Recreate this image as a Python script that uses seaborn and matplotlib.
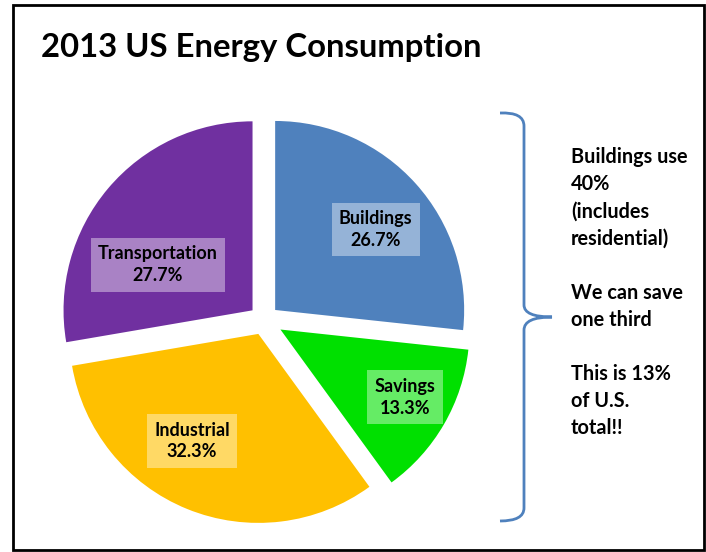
import numpy as np
import matplotlib
matplotlib.use("Agg")
import matplotlib.pyplot as plt
from matplotlib.path import Path
from matplotlib.patches import PathPatch, Rectangle
import seaborn as sns

# data
sectors = ["Buildings", "Savings", "Industrial", "Transportation"]
shares = [26.7, 13.3, 32.3, 27.7]
colors = ["#4F81BD", "#00E000", "#FFC000", "#7030A0"]
note_lines = ["Buildings use", "40%", "(includes", "residential)", "",
              "We can save", "one third", "", "This is 13%", "of U.S.", "total!!"]
title = "2013 US Energy Consumption"

# layout: explode in pixels, label placement inside each slice
explode = [15, 19, 15, 15]
label_frac = [0.68, 0.75, 0.667, 0.555]
label_nudge = [-3.3, 1.6, -9.7, 14.5]

sns.set_theme(style="white")
plt.rcParams['font.family'] = ['Lato', 'DejaVu Sans']

W, H = 706, 552
fig = plt.figure(figsize=(W / 100, H / 100), dpi=100)
ax = fig.add_axes([0, 0, 1, 1])

wedges, _ = ax.pie(shares, colors=colors, explode=explode, startangle=90,
                   counterclock=False, center=(264, H - 320), radius=189,
                   wedgeprops=dict(linewidth=0))
ax.set_xlim(0, W)
ax.set_ylim(0, H)
ax.set_aspect("equal")
ax.axis("off")

for w, name, val, fr, nd in zip(wedges, sectors, shares, label_frac, label_nudge):
    ang = np.deg2rad((w.theta1 + w.theta2) / 2 + nd)
    cx, cy = w.center
    x = cx + fr * w.r * np.cos(ang)
    y = cy + fr * w.r * np.sin(ang)
    ax.text(x, y, f"{name}\n{val}%", ha="center", va="center", fontsize=13,
            fontweight="bold", color="black", linespacing=1.35,
            bbox=dict(boxstyle="square,pad=0.4", facecolor="white",
                      alpha=0.4, edgecolor="none"))

ax.text(41, H - 57, title, fontsize=23.7, fontweight="bold", color="black",
        ha="left", va="baseline")

ax.text(571, H - 147, "\n".join(note_lines), fontsize=14.3, fontweight="bold",
        color="black", ha="left", va="top", linespacing=1.445)

# curly brace
def yy(v):
    return H - v

verts = [(500, yy(113)), (524, yy(112)), (524, yy(126)),
         (524, yy(305)),
         (524, yy(317)), (552, yy(317)),
         (524, yy(317)), (524, yy(330)),
         (524, yy(508)),
         (524, yy(521)), (500, yy(521))]
codes = [Path.MOVETO, Path.CURVE3, Path.CURVE3,
         Path.LINETO,
         Path.CURVE3, Path.CURVE3,
         Path.CURVE3, Path.CURVE3,
         Path.LINETO,
         Path.CURVE3, Path.CURVE3]
ax.add_patch(PathPatch(Path(verts, codes), facecolor="none",
                       edgecolor="#4F81BD", linewidth=2))

# outer frame
ax.add_patch(Rectangle((13, yy(550)), 704 - 13, 545, facecolor="none",
                       edgecolor="black", linewidth=2))

fig.savefig("out.png", dpi=100)
